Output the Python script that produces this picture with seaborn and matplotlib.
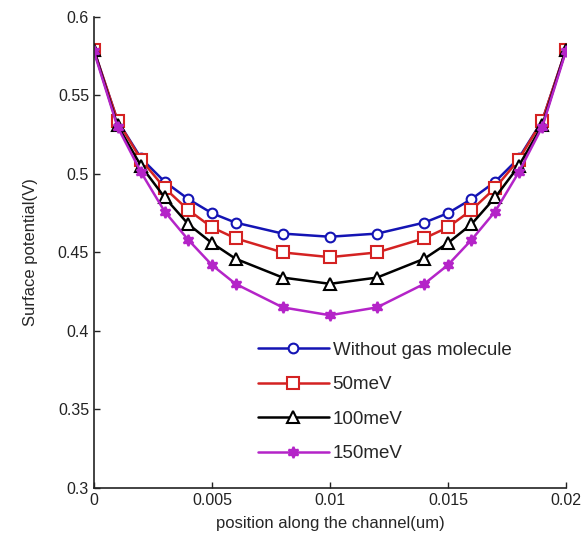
import matplotlib
matplotlib.use("Agg")
import matplotlib.pyplot as plt
import seaborn as sns
import pandas as pd

x_pos = [0, 0.001, 0.002, 0.003, 0.004, 0.005, 0.006, 0.008, 0.010,
         0.012, 0.014, 0.015, 0.016, 0.017, 0.018, 0.019, 0.020]
without_gas = [0.579, 0.534, 0.510, 0.495, 0.484, 0.475, 0.469, 0.462, 0.460,
               0.462, 0.469, 0.475, 0.484, 0.495, 0.510, 0.534, 0.579]
mev50 = [0.579, 0.534, 0.509, 0.491, 0.477, 0.466, 0.459, 0.450, 0.447,
         0.450, 0.459, 0.466, 0.477, 0.491, 0.509, 0.534, 0.579]
mev100 = [0.579, 0.531, 0.505, 0.485, 0.468, 0.456, 0.446, 0.434, 0.430,
          0.434, 0.446, 0.456, 0.468, 0.485, 0.505, 0.531, 0.579]
mev150 = [0.578, 0.530, 0.501, 0.476, 0.458, 0.442, 0.430, 0.415, 0.410,
          0.415, 0.430, 0.442, 0.458, 0.476, 0.501, 0.530, 0.578]
labels = ["Without gas molecule", "50meV", "100meV", "150meV"]
series = [without_gas, mev50, mev100, mev150]
x_ticks = [0, 0.005, 0.01, 0.015, 0.02]
x_ticklabels = ["0", "0.005", "0.01", "0.015", "0.02"]
y_ticks = [0.3, 0.35, 0.4, 0.45, 0.5, 0.55, 0.6]
y_ticklabels = ["0.3", "0.35", "0.4", "0.45", "0.5", "0.55", "0.6"]

sns.set_style("ticks")
plt.rcParams['font.family'] = ['Liberation Sans', 'DejaVu Sans']
plt.rcParams['xtick.direction'] = 'in'
plt.rcParams['ytick.direction'] = 'in'

fig = plt.figure(figsize=(5.87, 5.47), dpi=100)
ax = fig.add_axes([0.160, 0.108, 0.804, 0.861])

styles = [
    dict(color="#1414b4", marker="o", ms=7, mfc="white"),
    dict(color="#d42222", marker="s", ms=8, mfc="white"),
    dict(color="#000000", marker="^", ms=8, mfc="white"),
    dict(color="#b424c8", marker=(6, 1, 0), ms=8, mfc="#b424c8"),
]

for lab, vals, st in zip(labels, series, styles):
    df = pd.DataFrame({"x": x_pos, "y": vals})
    sns.lineplot(data=df, x="x", y="y", ax=ax, sort=False, label=lab,
                 color=st["color"], linewidth=1.8, marker=st["marker"],
                 markersize=st["ms"], markerfacecolor=st["mfc"],
                 markeredgecolor=st["color"], markeredgewidth=1.5)

ax.set_xlim(0, 0.02)
ax.set_ylim(0.3, 0.6)
ax.set_xticks(x_ticks)
ax.set_xticklabels(x_ticklabels)
ax.set_yticks(y_ticks)
ax.set_yticklabels(y_ticklabels)
ax.tick_params(labelsize=11.5, length=4, width=1, colors="#222222")
ax.set_xlabel("position along the channel(um)", fontsize=12, labelpad=6)
ax.set_ylabel("Surface potential(V)", fontsize=12, labelpad=14)
sns.despine(ax=ax)
for s in ["left", "bottom"]:
    ax.spines[s].set_color("#222222")
    ax.spines[s].set_linewidth(1.2)

ax.legend(loc="upper left", bbox_to_anchor=(0.347, 0.31), frameon=False,
          fontsize=13.5, handlelength=3.8, handletextpad=0.2,
          labelspacing=0.92, borderpad=0, borderaxespad=0)

fig.savefig("out.png", dpi=100)
